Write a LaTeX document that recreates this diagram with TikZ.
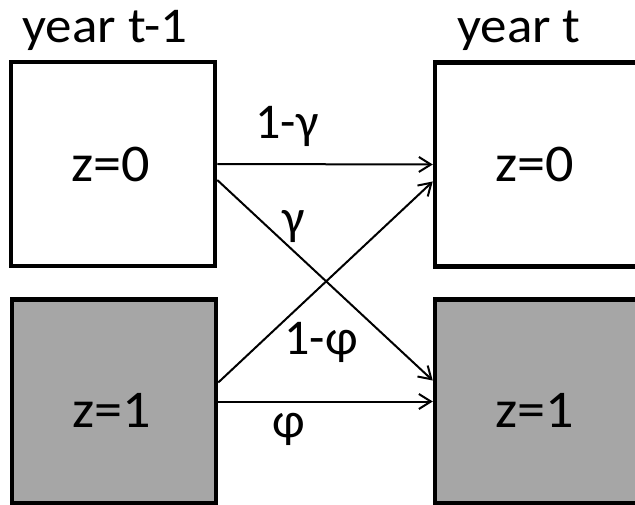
\documentclass[tikz,border=0pt]{standalone}
\usepackage{fontspec}
\setmainfont{Carlito}
\newfontfamily\widefont[FakeStretch=1.06]{Carlito}
\usetikzlibrary{arrows.meta}
\definecolor{boxgray}{HTML}{A6A6A6}
\begin{document}
\begin{tikzpicture}[x=1pt,y=-1pt,
  box/.style={draw=black, line width=4.5pt, minimum width=204pt, minimum height=204pt, inner sep=0pt},
  whitebox/.style={box, fill=white},
  graybox/.style={box, fill=boxgray},
  conn/.style={draw=black, line width=2pt, -{Straight Barb[length=12pt,width=15pt,line width=2pt]}},
  head/.style={font=\widefont\fontsize{50}{60}\selectfont, anchor=base, inner sep=0pt},
  ztext/.style={font=\widefont\fontsize{53}{64}\selectfont, anchor=base, inner sep=0pt},
  lab/.style={font=\fontsize{50}{60}\selectfont, anchor=base, inner sep=0pt}]
\useasboundingbox (0,0) rectangle (635,505);
\clip (0,0) rectangle (635,505);
% boxes
\node[whitebox] (a) at (113,164) {};
\node[graybox]  (b) at (114,401.5) {};
\node[whitebox] (c) at (537,164.5) {};
\node[graybox]  (d) at (537,401.5) {};
% headings
\node[head] (h1) at (105,43) {year t-1};
\node[head] (h2) at (519,43) {year t};
% box texts
\node[ztext] (za) at (111,182) {z=0};
\node[ztext] (zb) at (112,427) {z=1};
\node[ztext] (zc) at (535,182) {z=0};
\node[ztext] (zd) at (535,427) {z=1};
% connectors
\draw[conn] (a.east) -- (c.west);
\draw[conn] ([yshift=-16pt]a.east) -- ([yshift=21pt]d.west);
\draw[conn] ([yshift=19pt]b.east) -- ([yshift=-17pt]c.west);
\draw[conn] (b.east) -- (d.west);
% labels
\node[lab] (l1) at (287,139) {1-γ};
\node[lab] (l2) at (294,235) {γ};
\node[lab] (l3) at (321,355) {1-φ};
\node[lab] (l4) at (289,437) {φ};
\end{tikzpicture}
\end{document}
